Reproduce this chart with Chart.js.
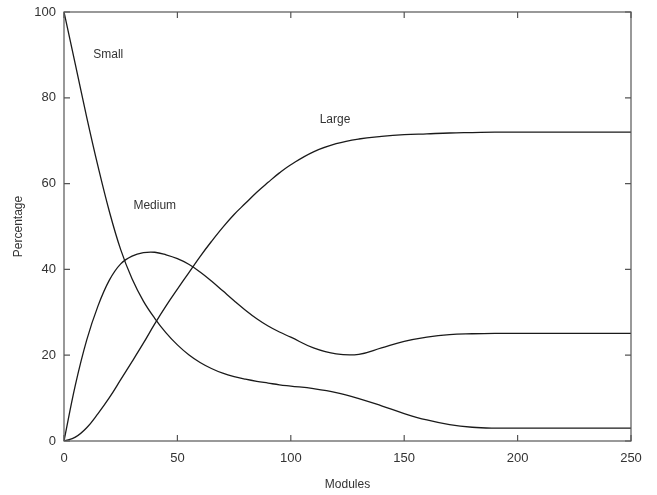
<!DOCTYPE html>
<html>
<head>
<meta charset="utf-8">
<script src="https://cdn.jsdelivr.net/npm/chart.js@4"></script>
<style>
  html, body { margin: 0; padding: 0; background: #fff; }
  #wrap { width: 657px; height: 495px; }
</style>
</head>
<body>
<div id="wrap"><canvas id="modules-chart"></canvas></div>
<script>
// values
var xModules   = [0, 5, 10, 15, 20, 25, 30, 35, 40, 45, 50, 55, 60, 65, 70, 75, 80, 85, 90, 95, 100, 110, 120, 130, 140, 150, 160, 170, 180, 190, 200, 225, 250];
var smallPct   = [100, 87.8, 75.5, 64, 53.5, 44.6, 37.8, 32.6, 28.6, 25.2, 22.4, 20.1, 18.3, 16.9, 15.8, 15, 14.4, 13.9, 13.5, 13.1, 12.8, 12.2, 11.3, 9.9, 8.2, 6.4, 4.9, 3.8, 3.2, 3, 3, 3, 3];
var mediumPct  = [0, 13, 23.5, 31.5, 37.5, 41.3, 43.1, 43.9, 44, 43.4, 42.5, 41.2, 39.4, 37.3, 35, 32.7, 30.5, 28.5, 26.8, 25.4, 24.2, 21.7, 20.3, 20.2, 21.7, 23.2, 24.2, 24.8, 25, 25.1, 25.1, 25.1, 25.1];
var largePct   = [0, 0.9, 3.1, 6.4, 10.1, 14.3, 18.5, 22.8, 27.3, 31.5, 35.4, 39.2, 43, 46.5, 49.8, 52.8, 55.4, 58, 60.3, 62.5, 64.4, 67.4, 69.3, 70.4, 71, 71.4, 71.6, 71.8, 71.9, 72, 72, 72, 72];
var xTicks = [0, 50, 100, 150, 200, 250];
var yTicks = [0, 20, 40, 60, 80, 100];

// curve labels, placed in data coordinates
var curveLabels = [
    { text: 'Small', x: 19.5, y: 90 },
    { text: 'Medium', x: 40, y: 54.8 },
    { text: 'Large', x: 119.5, y: 75 }
];

function toPoints(ys) {
    return xModules.map(function (x, i) { return { x: x, y: ys[i] }; });
}

var frameColor = '#555';
var textColor = '#333';
var fontFamily = '"Liberation Sans", Arial, sans-serif';

// gnuplot-like frame with inward ticks, plus the curve labels
var framePlugin = {
    id: 'frame',
    afterDraw: function (chart) {
        var ctx = chart.ctx;
        var a = chart.chartArea;
        var xs = chart.scales.x, ys = chart.scales.y;
        var len = 6;
        ctx.save();
        ctx.strokeStyle = frameColor;
        ctx.lineWidth = 1.2;
        ctx.strokeRect(a.left, a.top, a.right - a.left, a.bottom - a.top);
        ctx.beginPath();
        xTicks.forEach(function (v) {
            var px = xs.getPixelForValue(v);
            ctx.moveTo(px, a.bottom); ctx.lineTo(px, a.bottom - len);
            ctx.moveTo(px, a.top); ctx.lineTo(px, a.top + len);
        });
        yTicks.forEach(function (v) {
            var py = ys.getPixelForValue(v);
            ctx.moveTo(a.left, py); ctx.lineTo(a.left + len, py);
            ctx.moveTo(a.right, py); ctx.lineTo(a.right - len, py);
        });
        ctx.stroke();

        ctx.fillStyle = textColor;
        ctx.font = '12px ' + fontFamily;
        ctx.textAlign = 'center';
        ctx.textBaseline = 'middle';
        curveLabels.forEach(function (l) {
            ctx.fillText(l.text, xs.getPixelForValue(l.x), ys.getPixelForValue(l.y));
        });
        ctx.restore();
    }
};

function lineSet(label, ys) {
    return {
        label: label,
        data: toPoints(ys),
        borderColor: '#1a1a1a',
        borderWidth: 1.3,
        pointRadius: 0,
        fill: false,
        tension: 0.4
    };
}

new Chart(document.getElementById('modules-chart'), {
    type: 'line',
    data: {
        datasets: [
            lineSet('Small', smallPct),
            lineSet('Medium', mediumPct),
            lineSet('Large', largePct)
        ]
    },
    options: {
        responsive: true,
        maintainAspectRatio: false,
        animation: false,
        layout: { padding: { top: 12, right: 26, left: 0, bottom: 0 } },
        plugins: {
            legend: { display: false },
            tooltip: { enabled: false }
        },
        scales: {
            x: {
                type: 'linear',
                min: 0,
                max: 250,
                afterFit: function (s) { s.height = 54; s.paddingLeft = 0; s.paddingRight = 0; },
                afterBuildTicks: function (s) { s.ticks = xTicks.map(function (v) { return { value: v }; }); },
                grid: { display: false, drawTicks: false },
                border: { display: false },
                ticks: { color: textColor, font: { family: fontFamily, size: 13 }, padding: 10, maxRotation: 0 },
                title: { display: true, text: 'Modules', color: textColor, font: { family: fontFamily, size: 12 }, padding: { top: 4, bottom: 3 } }
            },
            y: {
                min: 0,
                max: 100,
                afterFit: function (s) { s.width = 64; s.paddingTop = 0; s.paddingBottom = 0; },
                afterBuildTicks: function (s) { s.ticks = yTicks.map(function (v) { return { value: v }; }); },
                grid: { display: false, drawTicks: false },
                border: { display: false },
                ticks: { color: textColor, font: { family: fontFamily, size: 13 }, padding: 8 },
                title: { display: true, text: 'Percentage', color: textColor, font: { family: fontFamily, size: 12 }, padding: { top: 11, bottom: 0 } }
            }
        }
    },
    plugins: [framePlugin]
});
</script>
</body>
</html>
